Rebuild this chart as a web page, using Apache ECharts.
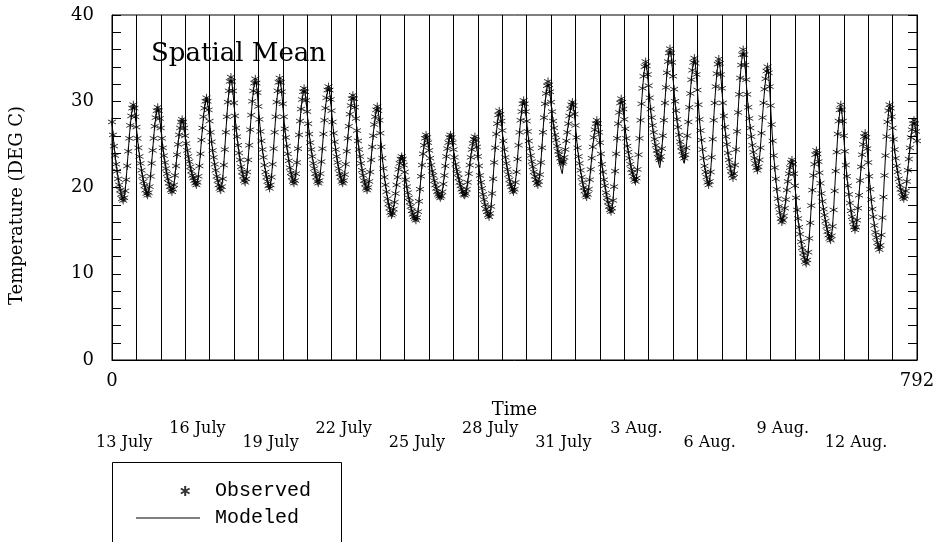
<!DOCTYPE html>
<html>
<head>
<meta charset="utf-8">
<title>Spatial Mean</title>
<script src="https://cdn.jsdelivr.net/npm/echarts@6/dist/echarts.min.js"></script>
<style>
html, body { margin: 0; padding: 0; background: #fff; }
#chart { width: 937px; height: 542px; }
</style>
</head>
<body>
<div id="chart"></div>
<script>
// hourly observed spatial mean temperature (DEG C), hour 0 = 13 July 00h, one row per day
const observed = [
  27.6,26.1,24.8,23.7,22.7,21.9,21.0,20.3,19.7,19.2,18.7,18.5,18.8,19.6,20.9,22.5,24.2,25.7,27.2,28.3,29.2,29.6,29.2,28.2,
  27.0,25.7,24.6,23.6,22.8,22.0,21.3,20.7,20.2,19.7,19.3,19.1,19.4,20.1,21.3,22.8,24.3,25.7,27.1,28.1,28.9,29.3,28.9,28.0,
  26.9,25.7,24.6,23.7,22.9,22.2,21.6,21.0,20.5,20.1,19.7,19.5,19.8,20.3,21.4,22.5,23.8,25.0,26.1,26.9,27.6,27.9,27.6,26.9,
  26.0,25.1,24.3,23.6,23.0,22.4,21.9,21.4,21.1,20.8,20.5,20.3,20.6,21.3,22.5,23.9,25.5,26.9,28.2,29.2,30.0,30.4,30.0,29.0,
  27.7,26.4,25.3,24.3,23.5,22.7,22.0,21.3,20.8,20.3,19.9,19.7,20.1,21.0,22.6,24.4,26.4,28.2,29.9,31.2,32.3,32.8,32.3,31.2,
  29.8,28.3,26.9,25.9,24.9,24.0,23.2,22.4,21.8,21.3,20.8,20.6,21.0,21.8,23.2,24.9,26.7,28.4,30.0,31.2,32.1,32.6,32.1,31.0,
  29.4,27.9,26.5,25.4,24.4,23.5,22.6,21.8,21.2,20.7,20.2,19.9,20.3,21.2,22.7,24.5,26.4,28.2,29.9,31.2,32.2,32.7,32.2,31.1,
  29.7,28.2,26.8,25.8,24.8,23.9,23.1,22.3,21.7,21.2,20.7,20.5,20.8,21.6,22.9,24.5,26.1,27.7,29.1,30.2,31.1,31.5,31.1,30.1,
  28.8,27.4,26.2,25.2,24.4,23.6,22.8,22.2,21.6,21.2,20.7,20.5,20.8,21.6,23.0,24.5,26.2,27.8,29.2,30.4,31.3,31.7,31.3,30.2,
  28.9,27.6,26.3,25.3,24.4,23.6,22.9,22.2,21.6,21.2,20.7,20.5,20.8,21.5,22.7,24.2,25.7,27.1,28.5,29.5,30.3,30.7,30.3,29.3,
  28.0,26.6,25.4,24.4,23.6,22.8,22.0,21.4,20.8,20.4,19.9,19.7,20.0,20.7,21.8,23.2,24.7,26.0,27.3,28.2,29.0,29.4,28.9,27.8,
  26.3,24.7,23.4,22.2,21.2,20.3,19.5,18.7,18.1,17.6,17.1,16.8,17.0,17.5,18.3,19.3,20.3,21.2,22.1,22.8,23.3,23.6,23.3,22.6,
  21.8,20.9,20.1,19.4,18.8,18.3,17.8,17.3,16.9,16.6,16.4,16.2,16.5,17.2,18.4,19.8,21.3,22.6,23.9,24.9,25.7,26.1,25.8,25.2,
  24.3,23.4,22.6,21.9,21.4,20.8,20.3,19.9,19.5,19.2,19.0,18.8,19.0,19.5,20.4,21.4,22.5,23.6,24.5,25.2,25.8,26.1,25.8,25.2,
  24.4,23.5,22.7,22.1,21.6,21.1,20.6,20.2,19.8,19.5,19.2,19.1,19.3,19.8,20.6,21.6,22.6,23.5,24.4,25.1,25.6,25.9,25.5,24.7,
  23.6,22.5,21.4,20.6,19.9,19.2,18.6,18.0,17.5,17.2,16.8,16.6,17.0,17.8,19.3,21.0,22.9,24.6,26.2,27.4,28.4,28.9,28.5,27.7,
  26.6,25.4,24.4,23.5,22.8,22.1,21.5,20.9,20.4,20.1,19.7,19.5,19.8,20.6,21.8,23.3,24.9,26.4,27.8,28.8,29.7,30.1,29.7,28.8,
  27.7,26.5,25.4,24.5,23.7,23.0,22.4,21.8,21.3,20.9,20.5,20.3,20.7,21.5,22.9,24.6,26.4,28.1,29.7,30.9,31.8,32.3,31.9,31.1,
  29.9,28.8,27.7,26.9,26.1,25.5,24.8,24.2,23.8,23.4,23.0,22.8,23.0,23.5,24.4,25.4,26.4,27.4,28.3,29.1,29.6,29.9,29.5,28.5,
  27.2,25.8,24.6,23.6,22.8,22.0,21.2,20.6,20.0,19.6,19.1,18.9,19.2,19.8,20.9,22.1,23.4,24.7,25.8,26.7,27.4,27.8,27.4,26.4,
  25.2,23.9,22.7,21.8,20.9,20.2,19.4,18.8,18.3,17.8,17.4,17.2,17.6,18.5,20.1,21.9,23.9,25.7,27.4,28.7,29.8,30.3,29.9,29.1,
  27.9,26.8,25.7,24.8,24.1,23.4,22.7,22.1,21.7,21.3,20.9,20.7,21.1,22.1,23.8,25.7,27.8,29.7,31.5,32.9,34.0,34.6,34.1,33.1,
  31.8,30.4,29.1,28.1,27.2,26.4,25.6,24.9,24.3,23.9,23.4,23.2,23.6,24.5,26.0,27.8,29.8,31.6,33.3,34.6,35.6,36.1,35.6,34.5,
  32.9,31.4,30.0,28.9,27.9,27.0,26.1,25.3,24.7,24.2,23.7,23.4,23.8,24.6,26.0,27.6,29.3,30.9,32.5,33.6,34.5,35.0,34.4,33.1,
  31.3,29.6,27.9,26.6,25.5,24.4,23.4,22.5,21.8,21.2,20.6,20.3,20.7,21.8,23.5,25.6,27.8,29.8,31.7,33.2,34.3,34.9,34.4,33.1,
  31.5,29.8,28.3,27.0,25.9,25.0,24.0,23.2,22.5,21.9,21.4,21.1,21.6,22.6,24.4,26.5,28.7,30.8,32.7,34.2,35.4,36.0,35.4,34.2,
  32.5,30.8,29.3,28.0,26.9,25.9,24.9,24.1,23.4,22.8,22.3,22.0,22.4,23.2,24.6,26.3,28.1,29.8,31.4,32.6,33.5,34.0,33.3,31.7,
  29.5,27.3,25.4,23.7,22.3,21.0,19.8,18.7,17.8,17.1,16.4,16.0,16.2,16.7,17.6,18.6,19.7,20.7,21.6,22.3,22.9,23.2,22.7,21.6,
  20.2,18.8,17.4,16.4,15.4,14.6,13.7,13.0,12.4,11.9,11.4,11.2,11.6,12.5,14.1,15.9,17.9,19.7,21.4,22.7,23.8,24.3,23.9,23.0,
  21.7,20.5,19.3,18.4,17.5,16.8,16.1,15.5,14.9,14.5,14.1,13.9,14.4,15.5,17.4,19.6,21.9,24.1,26.2,27.7,29.0,29.6,29.0,27.7,
  26.0,24.2,22.6,21.3,20.2,19.2,18.2,17.3,16.6,16.0,15.4,15.1,15.4,16.2,17.6,19.1,20.8,22.4,23.8,25.0,25.9,26.3,25.8,24.5,
  22.9,21.3,19.8,18.6,17.5,16.6,15.6,14.8,14.2,13.6,13.1,12.8,13.3,14.5,16.5,18.9,21.4,23.7,25.9,27.6,28.9,29.6,29.2,28.2,
  26.9,25.6,24.4,23.4,22.5,21.8,21.0,20.3,19.8,19.4,18.9,18.7,19.0,19.6,20.7,22.0,23.3,24.6,25.8,26.7,27.4,27.8,27.4,26.5,
  25.4
];

// hourly modeled spatial mean temperature (DEG C)
const modeled = [
  27.5,26.2,24.9,23.8,22.8,21.9,21.1,20.4,19.8,19.3,18.8,18.6,18.9,19.7,21.0,22.6,24.2,25.8,27.2,28.3,29.1,29.5,29.1,28.1,
  27.0,25.8,24.7,23.7,22.8,22.1,21.4,20.8,20.2,19.8,19.4,19.2,19.5,20.2,21.4,22.8,24.3,25.8,27.1,28.1,28.8,29.2,28.8,27.9,
  26.9,25.7,24.7,23.8,23.0,22.3,21.6,21.0,20.5,20.1,19.8,19.6,19.9,20.4,21.4,22.6,23.9,25.1,26.1,26.9,27.5,27.8,27.5,26.8,
  26.0,25.2,24.4,23.7,23.0,22.4,21.9,21.4,21.0,20.7,20.5,20.4,20.7,21.4,22.6,24.0,25.5,26.9,28.2,29.2,29.9,30.3,29.9,28.9,
  27.6,26.4,25.3,24.3,23.5,22.7,22.0,21.4,20.9,20.4,20.0,19.8,20.2,21.1,22.7,24.5,26.4,28.2,29.8,31.1,32.1,32.5,32.1,31.0,
  29.7,28.3,27.0,25.9,24.9,24.0,23.2,22.5,21.9,21.4,20.9,20.7,21.1,21.9,23.3,25.0,26.8,28.4,29.9,31.1,32.0,32.4,32.0,30.9,
  29.4,27.9,26.6,25.4,24.4,23.5,22.7,21.9,21.3,20.8,20.3,20.0,20.4,21.3,22.8,24.6,26.4,28.2,29.8,31.1,32.0,32.5,32.0,31.0,
  29.6,28.2,26.9,25.8,24.8,23.9,23.1,22.4,21.8,21.3,20.8,20.6,20.9,21.7,23.0,24.6,26.2,27.7,29.1,30.1,30.9,31.3,30.9,30.0,
  28.8,27.5,26.3,25.3,24.4,23.6,22.9,22.2,21.7,21.2,20.8,20.6,20.9,21.7,23.0,24.6,26.2,27.8,29.2,30.3,31.1,31.5,31.1,30.1,
  28.9,27.6,26.4,25.4,24.5,23.7,22.9,22.3,21.7,21.2,20.8,20.6,20.9,21.6,22.8,24.2,25.7,27.1,28.4,29.4,30.1,30.5,30.1,29.2,
  27.9,26.6,25.4,24.4,23.6,22.8,22.1,21.4,20.9,20.4,20.0,19.8,20.1,20.8,21.9,23.3,24.8,26.1,27.3,28.2,28.9,29.3,28.8,27.7,
  26.2,24.7,23.4,22.3,21.3,20.4,19.6,18.8,18.2,17.7,17.2,16.9,17.1,17.6,18.4,19.4,20.4,21.3,22.2,22.9,23.4,23.8,23.4,22.6,
  21.8,20.9,20.1,19.4,18.8,18.3,17.8,17.3,16.9,16.6,16.3,16.1,16.4,17.1,18.3,19.8,21.3,22.7,23.9,24.9,25.6,26.0,25.7,25.1,
  24.3,23.4,22.6,21.9,21.3,20.8,20.3,19.9,19.5,19.2,18.9,18.7,18.9,19.5,20.4,21.5,22.6,23.6,24.5,25.2,25.7,26.0,25.7,25.1,
  24.4,23.5,22.7,22.1,21.6,21.1,20.6,20.2,19.8,19.4,19.1,19.0,19.2,19.8,20.6,21.6,22.6,23.6,24.4,25.1,25.6,25.8,25.4,24.6,
  23.5,22.4,21.4,20.6,19.8,19.2,18.6,18.0,17.5,17.1,16.8,16.5,16.9,17.8,19.3,21.1,22.9,24.6,26.1,27.3,28.3,28.7,28.3,27.6,
  26.5,25.4,24.4,23.5,22.8,22.1,21.5,20.9,20.4,20.0,19.7,19.5,19.9,20.7,21.9,23.4,25.0,26.4,27.8,28.8,29.6,30.0,29.6,28.7,
  27.6,26.5,25.4,24.5,23.7,23.0,22.4,21.8,21.3,20.9,20.5,20.4,20.8,21.6,23.0,24.7,26.5,28.1,29.6,30.8,31.6,32.0,31.6,30.8,
  29.7,28.6,27.6,26.7,25.9,25.2,24.5,23.8,23.1,22.5,22.0,21.6,22.6,23.6,24.5,25.5,26.5,27.4,28.3,29.0,29.5,29.8,29.4,28.4,
  27.2,25.8,24.6,23.6,22.8,22.0,21.3,20.6,20.0,19.6,19.2,18.9,19.3,19.9,21.0,22.2,23.5,24.7,25.8,26.6,27.3,27.7,27.3,26.3,
  25.1,23.9,22.7,21.8,20.9,20.2,19.5,18.9,18.3,17.8,17.4,17.1,17.6,18.6,20.2,22.0,23.9,25.7,27.3,28.6,29.6,30.1,29.7,28.9,
  27.8,26.7,25.7,24.8,24.1,23.4,22.8,22.2,21.7,21.3,20.9,20.6,21.1,22.2,23.9,25.8,27.8,29.7,31.4,32.8,33.8,34.4,33.9,32.9,
  31.6,30.2,28.9,27.8,26.8,25.9,25.1,24.4,23.8,23.2,22.7,22.3,23.3,24.5,26.1,27.9,29.9,31.7,33.3,34.6,35.5,35.9,35.4,34.3,
  32.7,31.2,29.8,28.6,27.6,26.6,25.7,24.9,24.2,23.6,23.1,22.8,23.5,24.6,26.1,27.7,29.4,31.0,32.5,33.6,34.4,34.8,34.2,32.9,
  31.2,29.5,27.9,26.6,25.4,24.4,23.4,22.5,21.8,21.2,20.7,20.4,20.8,21.9,23.6,25.7,27.9,29.9,31.7,33.1,34.2,34.7,34.2,32.9,
  31.4,29.7,28.2,26.9,25.8,24.9,24.0,23.2,22.5,21.9,21.4,21.2,21.7,22.7,24.5,26.6,28.8,30.8,32.7,34.1,35.2,35.7,35.1,33.9,
  32.2,30.6,29.1,27.9,26.8,25.8,24.9,24.1,23.4,22.8,22.3,22.0,22.5,23.3,24.7,26.4,28.2,29.8,31.3,32.5,33.3,33.8,33.1,31.6,
  29.4,27.3,25.4,23.8,22.4,21.1,19.9,18.8,17.9,17.1,16.5,16.1,16.3,16.8,17.7,18.7,19.8,20.8,21.6,22.3,22.8,23.1,22.6,21.5,
  20.1,18.7,17.4,16.3,15.4,14.5,13.7,13.0,12.4,11.9,11.5,11.3,11.7,12.6,14.2,16.0,17.9,19.7,21.3,22.6,23.6,24.1,23.7,22.8,
  21.6,20.4,19.3,18.3,17.5,16.8,16.1,15.5,15.0,14.5,14.2,14.0,14.5,15.6,17.5,19.7,21.9,24.1,26.1,27.6,28.8,29.4,28.8,27.5,
  25.8,24.1,22.6,21.3,20.2,19.2,18.2,17.4,16.7,16.0,15.5,15.2,15.5,16.3,17.7,19.2,20.9,22.4,23.8,24.9,25.8,26.1,25.6,24.4,
  22.8,21.2,19.8,18.6,17.5,16.6,15.7,14.9,14.2,13.7,13.2,12.9,13.4,14.6,16.6,19.0,21.4,23.7,25.8,27.5,28.7,29.4,29.0,28.0,
  26.8,25.5,24.4,23.4,22.5,21.7,21.0,20.4,19.8,19.4,19.0,18.8,19.1,19.7,20.8,22.0,23.4,24.6,25.7,26.6,27.3,27.6,27.2,26.3,
  25.2
];

// date labels under the time axis, placed at the middle of each labelled day (hours)
const dateLabels = ['13 July', '16 July', '19 July', '22 July', '25 July', '28 July',
                    '31 July', '3 Aug.', '6 Aug.', '9 Aug.', '12 Aug.'];
const dateLabelHours = [12, 84, 156, 228, 300, 372, 444, 516, 588, 660, 732];

const xMin = 0;
const xMax = 792;
const dayHours = 24;
const yMin = 0;
const yMax = 40;

const serif = 'DejaVu Serif';
// 星号符号（散点用）
const starPath = 'path://M0,-4L0,4M-3.5,-2L3.5,2M-3.5,2L3.5,-2';
// 图例用：左侧加一个零长度点，把星号推到图例框右边
const starLegendPath = 'path://M-31,0L-31,0M0,-4L0,4M-3.5,-2L3.5,2M-3.5,2L3.5,-2';
const lineLegendPath = 'path://M0,0L64,0L64,1L0,1Z';

const chart = echarts.init(document.getElementById('chart'));

// 两行交错的日期标签
const lowerHours = dateLabelHours.filter((h, i) => i % 2 === 0);
const upperHours = dateLabelHours.filter((h, i) => i % 2 === 1);
const dateFormatter = v => {
    const i = dateLabelHours.indexOf(Math.round(v));
    return i >= 0 ? dateLabels[i] : '';
};

const dateAxis = (hours, offset) => ({
    type: 'value',
    gridIndex: 0,
    position: 'bottom',
    offset: offset,
    min: xMin,
    max: xMax,
    axisLine: { show: false, onZero: false },
    axisTick: { show: false },
    splitLine: { show: false },
    axisLabel: {
        customValues: hours,
        formatter: dateFormatter,
        margin: 0,
        color: '#000',
        fontFamily: serif,
        fontSize: 16
    }
});

// 每 2 度一个内侧刻度，只在 10 的倍数处标数字
// onZero 关掉，否则右侧轴会被挪到 x=0 处
const yAxisBase = (position, labelColor) => ({
    type: 'value',
    position: position,
    min: yMin,
    max: yMax,
    interval: 2,
    axisLine: { show: true, onZero: false, lineStyle: { color: '#000', width: 1 } },
    axisTick: { show: true, inside: true, length: 9, lineStyle: { color: '#000' } },
    splitLine: { show: false },
    axisLabel: {
        margin: 18,
        color: labelColor,
        fontFamily: serif,
        fontSize: 18,
        formatter: v => (v % 10 === 0 ? String(v) : '')
    }
});

const leftAxis = yAxisBase('left', '#000');
leftAxis.name = 'Temperature (DEG C)';
leftAxis.nameLocation = 'middle';
leftAxis.nameGap = 86;
leftAxis.nameTextStyle = { color: '#000', fontFamily: serif, fontSize: 18, padding: [0, 36, 0, 0] };

const option = {
    animation: false,
    backgroundColor: '#fff',
    title: {
        text: 'Spatial Mean',
        left: 146,
        top: 36,
        textStyle: { fontFamily: serif, fontSize: 26, fontWeight: 'normal', color: '#000' }
    },
    grid: {
        left: 112,
        right: 20,
        top: 15,
        bottom: 182,
        show: true,
        borderColor: '#000',
        borderWidth: 1,
        outerBoundsMode: 'none'
    },
    legend: {
        orient: 'vertical',
        left: 131,
        top: 476,
        itemWidth: 64,
        itemHeight: 10,
        itemGap: 7,
        selectedMode: false,
        textStyle: { fontFamily: 'Liberation Mono', fontSize: 20, color: '#000', padding: [0, 0, 0, 10] },
        data: [
            { name: 'Observed', icon: starLegendPath },
            { name: 'Modeled', icon: lineLegendPath }
        ]
    },
    graphic: [
        {
            type: 'rect',
            shape: { x: 112.5, y: 462.5, width: 229, height: 100 },
            style: { fill: 'none', stroke: '#000', lineWidth: 1 },
            silent: true
        }
    ],
    xAxis: [
        {
            type: 'value',
            min: xMin,
            max: xMax,
            interval: dayHours,
            name: 'Time',
            nameLocation: 'middle',
            nameGap: 41,
            nameTextStyle: { color: '#000', fontFamily: serif, fontSize: 18 },
            axisLine: { show: true, onZero: false, lineStyle: { color: '#000' } },
            axisTick: { show: false },
            splitLine: { show: true, lineStyle: { color: '#000', width: 1 } },
            axisLabel: {
                margin: 12,
                color: '#000',
                fontFamily: serif,
                fontSize: 18,
                formatter: v => (v === xMin || v === xMax) ? String(v) : ''
            }
        },
        dateAxis(upperHours, 61),
        dateAxis(lowerHours, 75)
    ],
    yAxis: [leftAxis, yAxisBase('right', 'rgba(0,0,0,0)')],
    series: [
        {
            name: 'Observed',
            type: 'scatter',
            progressive: 0,
            symbol: starPath,
            symbolSize: 8,
            itemStyle: { color: 'rgba(0,0,0,0)', borderColor: '#000', borderWidth: 1 },
            data: observed.map((v, i) => [i, v])
        },
        {
            name: 'Modeled',
            type: 'line',
            yAxisIndex: 1,
            symbol: 'none',
            showSymbol: false,
            itemStyle: { color: '#000' },
            lineStyle: { color: '#000', width: 1 },
            data: modeled.map((v, i) => [i, v])
        }
    ]
};

chart.setOption(option);
</script>
</body>
</html>
